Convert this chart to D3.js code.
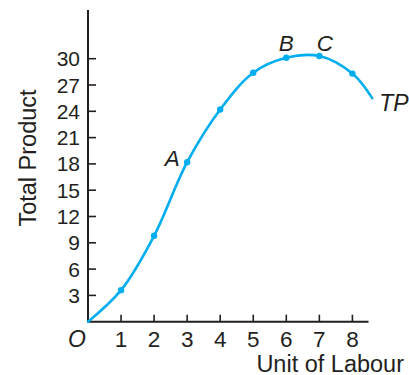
<!DOCTYPE html>
<html>
<head>
<meta charset="utf-8">
<script src="https://cdn.jsdelivr.net/npm/d3@7"></script>
<style>
  html, body { margin: 0; padding: 0; background: #fff; }
  svg { display: block; }
  text { font-family: "Liberation Sans", Arial, Helvetica, sans-serif; fill: #231f20; }
</style>
</head>
<body>
<svg id="chart" width="409" height="375"></svg>
<script>
// ---- data ----
const labour = [0, 1, 2, 3, 4, 5, 6, 7, 8, 8.6];
const totalProduct = [0, 3.6, 9.8, 18.2, 24.2, 28.4, 30.1, 30.3, 28.3, 25.5];
const markedUnits = [1, 2, 3, 4, 5, 6, 7, 8];
const xTicks = [1, 2, 3, 4, 5, 6, 7, 8];
const yTicks = [3, 6, 9, 12, 15, 18, 21, 24, 27, 30];
const pointNames = ["A", "B", "C"];
const pointUnits = [3, 6, 7];
const curveName = "TP";
const xTitle = "Unit of Labour";
const yTitle = "Total Product";
const originLabel = "O";

// ---- layout ----
const svg = d3.select("#chart");
const x0 = 88, y0 = 321.7;
const x = d3.scaleLinear().domain([0, 1]).range([x0, x0 + 33.05]);
const y = d3.scaleLinear().domain([0, 30]).range([y0, 58.7]);
const xEnd = 368.5, yTop = 10;
const ink = "#231f20", blue = "#00aeef";

// axes lines
svg.append("line").attr("x1", x0).attr("y1", y0).attr("x2", xEnd).attr("y2", y0)
  .attr("stroke", ink).attr("stroke-width", 2);
svg.append("line").attr("x1", x0).attr("y1", y0 + 1).attr("x2", x0).attr("y2", yTop)
  .attr("stroke", ink).attr("stroke-width", 2);

// y ticks
svg.selectAll(".yt").data(yTicks).enter().append("line")
  .attr("x1", x0).attr("x2", x0 + 8)
  .attr("y1", d => y(d)).attr("y2", d => y(d))
  .attr("stroke", ink).attr("stroke-width", 1.6);
svg.selectAll(".yl").data(yTicks).enter().append("text")
  .attr("x", 80).attr("y", d => y(d)).attr("dy", "0.36em")
  .attr("text-anchor", "end").attr("font-size", 21)
  .text(d => d);

// x ticks
svg.selectAll(".xt").data(xTicks).enter().append("line")
  .attr("x1", d => x(d)).attr("x2", d => x(d))
  .attr("y1", y0).attr("y2", y0 - 7)
  .attr("stroke", ink).attr("stroke-width", 1.6);
svg.selectAll(".xl").data(xTicks).enter().append("text")
  .attr("x", d => x(d)).attr("y", 347)
  .attr("text-anchor", "middle").attr("font-size", 22.5)
  .text(d => d);

svg.append("text").attr("x", 77).attr("y", 347).attr("text-anchor", "middle")
  .attr("font-size", 23).attr("font-style", "italic").text(originLabel);

// axis titles
svg.append("text").attr("x", 404).attr("y", 372).attr("text-anchor", "end")
  .attr("font-size", 23.5).text(xTitle);
svg.append("text").attr("transform", "translate(36,158) rotate(-90)")
  .attr("text-anchor", "middle").attr("font-size", 23.5).text(yTitle);

// curve
const pts = labour.map((l, i) => [x(l), y(totalProduct[i])]);
const line = d3.line().curve(d3.curveCatmullRom.alpha(0.5));
svg.append("path").attr("d", line(pts))
  .attr("fill", "none").attr("stroke", blue).attr("stroke-width", 2.6)
  .attr("stroke-linecap", "round");

// dots
svg.selectAll(".dot").data(markedUnits).enter().append("circle")
  .attr("cx", d => x(d)).attr("cy", d => y(totalProduct[labour.indexOf(d)]))
  .attr("r", 3.2).attr("fill", blue);

// point labels
const labelOffsets = { A: [-7.5, 3.5, "end"], B: [0, -6.5, "middle"], C: [5.5, -4.7, "middle"] };
pointNames.forEach((nm, i) => {
  const u = pointUnits[i];
  const o = labelOffsets[nm];
  svg.append("text")
    .attr("x", x(u) + o[0]).attr("y", y(totalProduct[labour.indexOf(u)]) + o[1])
    .attr("text-anchor", o[2]).attr("font-size", 22.5).attr("font-style", "italic")
    .text(nm);
});

// curve label
const lastI = labour.length - 1;
svg.append("text").attr("x", x(labour[lastI]) + 7).attr("y", y(totalProduct[lastI]) + 13)
  .attr("font-size", 23).attr("font-style", "italic").text(curveName);
</script>
</body>
</html>
